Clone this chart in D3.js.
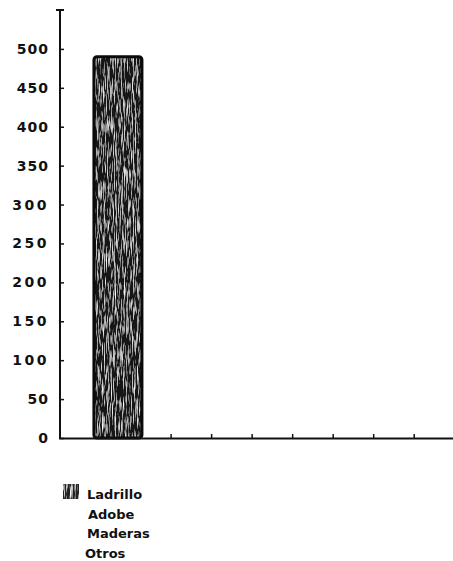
<!DOCTYPE html>
<html>
<head>
<meta charset="utf-8">
<script src="https://cdn.jsdelivr.net/npm/d3@7/dist/d3.min.js"></script>
<style>
  body { margin: 0; background: #fff; }
  text { font-family: "DejaVu Sans", sans-serif; font-weight: bold; fill: #111; }
</style>
</head>
<body>
<script>
// data
var categories = ["Ladrillo"];
var values = [490];
var legendLabels = ["Ladrillo", "Adobe", "Maderas", "Otros"];
var yTicks = [0, 50, 100, 150, 200, 250, 300, 350, 400, 450, 500];
var xTicks = [0, 1, 2, 3, 4, 5, 6, 7];

var width = 453, height = 561;
var svg = d3.select("body").append("svg").attr("width", width).attr("height", height);

// grainy dark fill for the bar
var defs = svg.append("defs");
var f = defs.append("filter").attr("id", "grain").attr("x", 0).attr("y", 0).attr("width", 1).attr("height", 1);
f.append("feTurbulence").attr("type", "fractalNoise").attr("baseFrequency", "0.9 0.06").attr("numOctaves", 3).attr("seed", 7).attr("result", "n");
f.append("feColorMatrix").attr("in", "n").attr("type", "matrix")
  .attr("values", "0 0 0 0 1  0 0 0 0 1  0 0 0 0 1  2.6 0 0 0 -1.25").attr("result", "w");
f.append("feComposite").attr("in", "w").attr("in2", "SourceGraphic").attr("operator", "in").attr("result", "spk");
f.append("feMerge").selectAll("feMergeNode").data(["SourceGraphic", "spk"]).enter().append("feMergeNode").attr("in", function(d) { return d; });

var y = d3.scaleLinear().domain([0, 550]).range([438, 10]);
var x = d3.scaleLinear().domain([-1.73, 7.97]).range([60, 453]);
var barPos = [-0.3];

// bar
var bar = svg.selectAll("g.bar").data(values).enter().append("g").attr("class", "bar");
bar.append("rect")
  .attr("x", function(d, i) { return x(barPos[i]) - 24; })
  .attr("width", 48)
  .attr("y", function(d) { return y(d); })
  .attr("height", function(d) { return y(0) - y(d); })
  .attr("rx", 3)
  .attr("fill", "#141414")
  .attr("filter", "url(#grain)");
bar.append("rect")
  .attr("x", function(d, i) { return x(barPos[i]) - 24; })
  .attr("width", 48)
  .attr("y", function(d) { return y(d); })
  .attr("height", function(d) { return y(0) - y(d); })
  .attr("rx", 3)
  .attr("fill", "none")
  .attr("stroke", "#0a0a0a")
  .attr("stroke-width", 3);

// y axis
var yAxis = d3.axisRight(y).tickValues(yTicks).tickSize(4).tickFormat("");
var gy = svg.append("g").attr("transform", "translate(60,0)").call(yAxis);
gy.select(".domain").remove();
gy.selectAll("line").attr("stroke", "#111").attr("stroke-width", 1.5);
svg.append("line").attr("x1", 60).attr("x2", 60).attr("y1", y(550)).attr("y2", y(0) + 1)
  .attr("stroke", "#111").attr("stroke-width", 2);
svg.append("line").attr("x1", 56).attr("x2", 64).attr("y1", y(550)).attr("y2", y(550))
  .attr("stroke", "#111").attr("stroke-width", 2);

svg.selectAll("text.ylab").data(yTicks).enter().append("text")
  .attr("class", "ylab")
  .attr("x", 49)
  .attr("y", function(d) { return y(d) + 5; })
  .attr("text-anchor", "end")
  .attr("font-size", 14)
  .attr("letter-spacing", function(d) { return d >= 100 && d <= 300 ? 2.5 : 1; })
  .text(function(d) { return d; });

// x axis
var xAxis = d3.axisTop(x).tickValues(xTicks).tickSize(4).tickFormat("");
var gx = svg.append("g").attr("transform", "translate(0,438)").call(xAxis);
gx.select(".domain").remove();
gx.selectAll("line").attr("stroke", "#111").attr("stroke-width", 1.5);
svg.append("line").attr("x1", 59).attr("x2", 453).attr("y1", 438.5).attr("y2", 438.5)
  .attr("stroke", "#111").attr("stroke-width", 2);

// legend
var leg = svg.append("g").attr("transform", "translate(63,484)");
leg.append("rect").attr("width", 16).attr("height", 15).attr("fill", "#222").attr("filter", "url(#grain)");
leg.selectAll("text").data(legendLabels).enter().append("text")
  .attr("x", function(d, i) { return [24, 25, 24, 22][i]; })
  .attr("y", function(d, i) { return 15 + i * 19.5; })
  .attr("font-size", 13)
  .text(function(d) { return d; });
</script>
</body>
</html>
